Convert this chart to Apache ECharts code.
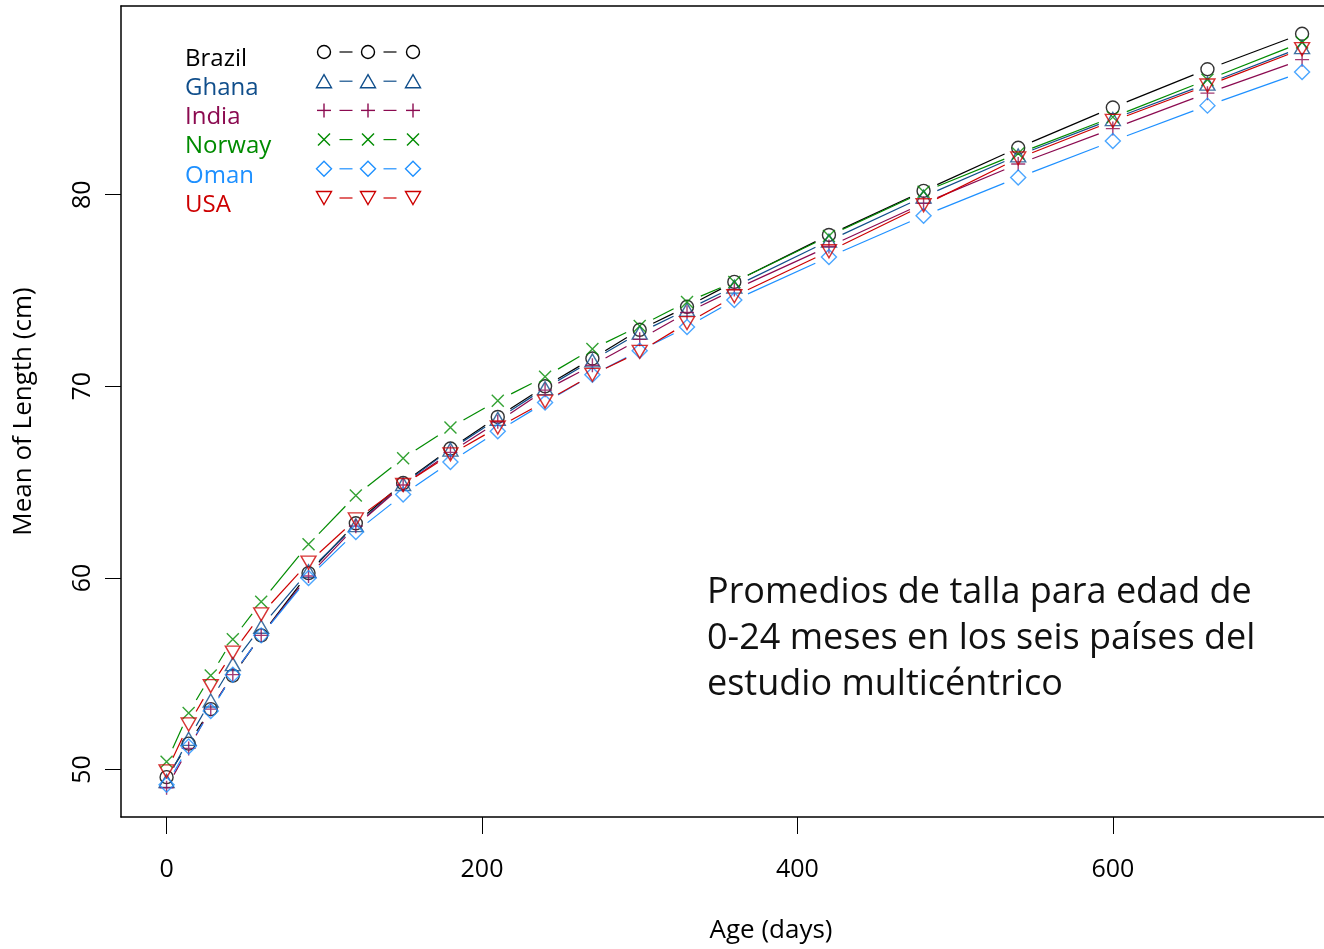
<!DOCTYPE html>
<html>
<head>
<meta charset="utf-8">
<script src="https://cdn.jsdelivr.net/npm/echarts@6/dist/echarts.min.js"></script>
<style>
  html, body { margin: 0; padding: 0; background: #fff; }
  #chart { width: 1324px; height: 949px; }
</style>
</head>
<body>
<div id="chart"></div>
<script>
// age in days (0, 2, 4, 6 weeks, then monthly, then every 2 months)
const ageDays = [0, 14, 28, 42, 60, 90, 120, 150, 180, 210, 240, 270, 300, 330, 360, 420, 480, 540, 600, 660, 720];

const brazil = [49.6, 51.35, 53.15, 54.9, 57.0, 60.25, 62.85, 64.95, 66.75, 68.4, 70.0, 71.45, 72.95, 74.15, 75.45, 77.9, 80.2, 82.45, 84.55, 86.55, 88.4];
const ghana  = [49.4, 51.6, 53.6, 55.5, 57.45, 60.35, 62.75, 64.9, 66.7, 68.3, 69.9, 71.35, 72.8, 74.0, 75.2, 77.6, 79.9, 82.05, 83.95, 85.8, 87.7];
const india  = [49.05, 51.1, 53.15, 54.95, 57.0, 60.1, 62.7, 64.85, 66.55, 68.15, 69.8, 71.1, 72.45, 73.85, 75.05, 77.3, 79.55, 81.6, 83.45, 85.3, 87.05];
const norway = [50.4, 52.95, 54.9, 56.8, 58.75, 61.75, 64.3, 66.25, 67.85, 69.25, 70.5, 71.95, 73.15, 74.4, 75.45, 77.85, 80.15, 82.15, 84.05, 86.0, 87.95];
const oman   = [49.2, 51.2, 53.05, 54.95, 57.0, 60.0, 62.4, 64.35, 66.05, 67.65, 69.15, 70.6, 71.85, 73.1, 74.5, 76.75, 78.9, 80.9, 82.8, 84.65, 86.4];
const usa    = [49.9, 52.35, 54.35, 56.1, 58.1, 60.8, 63.05, 64.85, 66.45, 67.85, 69.2, 70.6, 71.8, 73.3, 74.7, 77.05, 79.45, 81.9, 83.85, 85.7, 87.6];

const countries = ["Brazil", "Ghana", "India", "Norway", "Oman", "USA"];
const xTicks = [0, 200, 400, 600];
const yTicks = [50, 60, 70, 80];

const colors = ["#000000", "#104E8B", "#8B0A50", "#008B00", "#1E90FF", "#CD0000"];
const allValues = [brazil, ghana, india, norway, oman, usa];

// R-like pch symbols: circle, triangle, plus, x, diamond, down triangle
const symbols = [
  { symbol: "circle", size: 13, rotate: 0 },
  { symbol: "triangle", size: [15, 13], rotate: 0 },
  { symbol: "path://M0,5L10,5M5,0L5,10", size: 14, rotate: 0 },
  { symbol: "path://M0,0L10,10M10,0L0,10", size: 12, rotate: 0 },
  { symbol: "diamond", size: 15, rotate: 0 },
  { symbol: "triangle", size: [15, 13], rotate: 180 },
];

const GAP = 15; // type="b": segments stop short of the points

const font = "'Open Sans', 'Noto Sans', sans-serif";

function segmentData(vals) {
  const out = [];
  for (let i = 1; i < ageDays.length; i++) out.push([ageDays[i - 1], vals[i - 1], ageDays[i], vals[i]]);
  return out;
}

const series = [];
allValues.forEach((vals, k) => {
  const color = colors[k];
  series.push({
    type: "custom",
    name: countries[k] + "-line",
    silent: true,
    encode: { x: [0, 2], y: [1, 3] },
    data: segmentData(vals),
    renderItem: (params, api) => {
      const a = api.coord([api.value(0), api.value(1)]);
      const b = api.coord([api.value(2), api.value(3)]);
      const dx = b[0] - a[0], dy = b[1] - a[1];
      const len = Math.sqrt(dx * dx + dy * dy);
      if (len <= 2 * GAP) return null;
      const ux = dx / len, uy = dy / len;
      return {
        type: "line",
        shape: { x1: a[0] + ux * GAP, y1: a[1] + uy * GAP, x2: b[0] - ux * GAP, y2: b[1] - uy * GAP },
        style: { stroke: color, lineWidth: 1.2 },
      };
    },
    z: 2,
  });
  series.push({
    type: "scatter",
    name: countries[k],
    data: ageDays.map((d, i) => [d, vals[i]]),
    symbol: symbols[k].symbol,
    symbolSize: symbols[k].size,
    symbolRotate: symbols[k].rotate,
    itemStyle: { color: "rgba(0,0,0,0)", borderColor: color, borderWidth: 1.4 },
    z: 3,
  });
});

// legend built from graphic glyphs: label, then "sym - sym - sym"
function seg(x1, y1, x2, y2, color) {
  return { type: "line", shape: { x1, y1, x2, y2 }, style: { stroke: color, lineWidth: 1.4 } };
}
function glyph(kind, cx, cy, color) {
  const st = { stroke: color, fill: null, lineWidth: 1.4 };
  switch (kind) {
    case 0: return [{ type: "circle", shape: { cx, cy, r: 6.5 }, style: st }];
    case 1: return [{ type: "polygon", shape: { points: [[cx, cy - 6.5], [cx + 7.5, cy + 6.5], [cx - 7.5, cy + 6.5]] }, style: st }];
    case 2: return [seg(cx - 7, cy, cx + 7, cy, color), seg(cx, cy - 7, cx, cy + 7, color)];
    case 3: return [seg(cx - 6, cy - 6, cx + 6, cy + 6, color), seg(cx + 6, cy - 6, cx - 6, cy + 6, color)];
    case 4: return [{ type: "polygon", shape: { points: [[cx, cy - 7.5], [cx + 7.5, cy], [cx, cy + 7.5], [cx - 7.5, cy]] }, style: st }];
    default: return [{ type: "polygon", shape: { points: [[cx, cy + 6.5], [cx + 7.5, cy - 6.5], [cx - 7.5, cy - 6.5]] }, style: st }];
  }
}

const legendGraphics = [];
countries.forEach((name, k) => {
  const rowY = 52 + k * 29.2;
  legendGraphics.push({
    type: "text", x: 185, y: rowY + 7,
    style: { text: name, fill: colors[k], font: `24px ${font}`, verticalAlign: "middle" },
  });
  [324, 368, 413].forEach((x) => legendGraphics.push(...glyph(k, x, rowY, colors[k])));
  [346, 390].forEach((x) => legendGraphics.push({
    type: "line", shape: { x1: x - 6.5, y1: rowY, x2: x + 6.5, y2: rowY },
    style: { stroke: colors[k], lineWidth: 1.2 },
  }));
});

const boxLine = { show: true, onZero: false, lineStyle: { color: "#000", width: 1.5 } };

const chart = echarts.init(document.getElementById("chart"));
chart.setOption({
  animation: false,
  backgroundColor: "#fff",
  grid: { left: 121, top: 6, right: 0, bottom: 132, show: false },
  xAxis: [
    {
      type: "value",
      position: "bottom",
      min: -28.9,
      max: 733.9,
      axisLine: boxLine,
      splitLine: { show: false },
      axisTick: { show: true, length: 17, lineStyle: { color: "#000", width: 1 }, customValues: xTicks },
      axisLabel: { customValues: xTicks, fontSize: 25, color: "#000", fontFamily: font, margin: 40 },
      name: "Age (days)",
      nameLocation: "middle",
      nameGap: 101,
      nameTextStyle: { fontSize: 26, color: "#000", fontFamily: font, padding: [0, 0, 0, 97] },
    },
    {
      type: "value",
      position: "top",
      min: -28.9,
      max: 733.9,
      axisLine: boxLine,
      splitLine: { show: false },
      axisTick: { show: false },
      axisLabel: { show: false },
    },
  ],
  yAxis: {
    type: "value",
    min: 47.52,
    max: 89.85,
    axisLine: boxLine,
    splitLine: { show: false },
    axisTick: { show: true, length: 16, lineStyle: { color: "#000", width: 1 }, customValues: yTicks },
    axisLabel: { customValues: yTicks, rotate: 90, fontSize: 25, color: "#000", fontFamily: font, margin: 26 },
    name: "Mean of Length (cm)",
    nameLocation: "middle",
    nameGap: 84,
    nameTextStyle: { fontSize: 26, color: "#000", fontFamily: font },
  },
  series,
  graphic: [
    ...legendGraphics,
    {
      type: "text", x: 707, y: 570,
      style: {
        text: "Promedios de talla para edad de\n0-24 meses en los seis países del\nestudio multicéntrico",
        fill: "#111", font: `36px ${font}`, lineHeight: 46,
      },
    },
  ],
});
</script>
</body>
</html>
